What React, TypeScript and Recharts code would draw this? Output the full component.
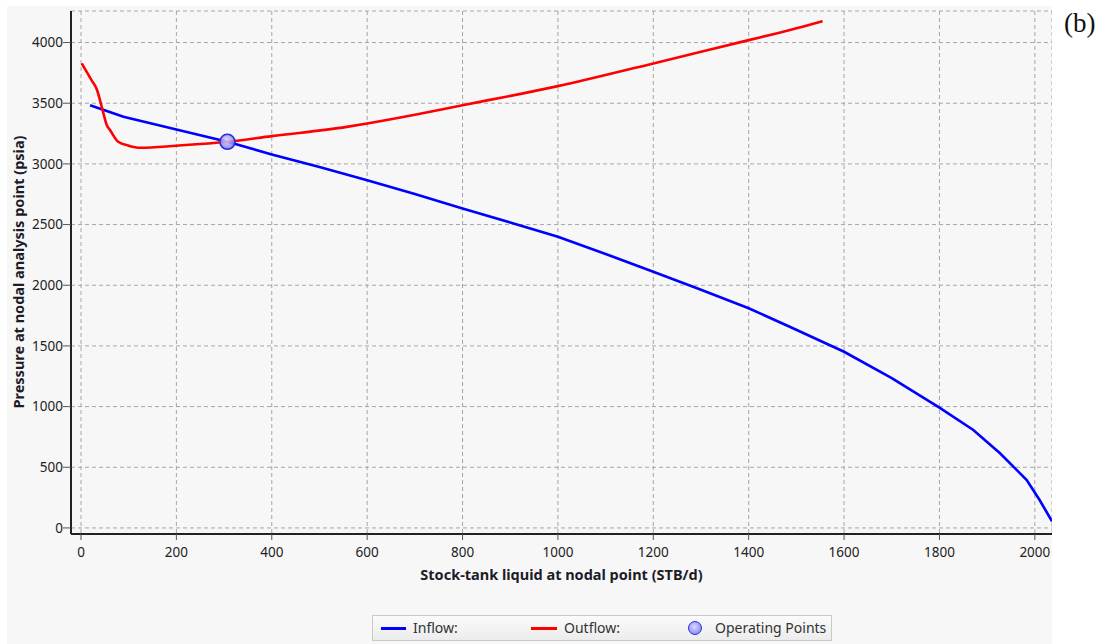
import React from 'react';
import {
  ComposedChart,
  Line,
  Scatter,
  XAxis,
  YAxis,
  CartesianGrid,
} from 'recharts';

// Inflow (IPR) curve: rate STB/d vs pressure psia
const inflowRate = [19, 89, 200, 307, 400, 500, 600, 700, 800, 900, 1000, 1100, 1200, 1300, 1400, 1486, 1600, 1700, 1800, 1871, 1927, 1983, 2010, 2036];
const inflowPressure = [3484, 3388, 3284, 3182, 3078, 2975, 2866, 2752, 2633, 2518, 2400, 2258, 2111, 1963, 1810, 1658, 1452, 1235, 991, 807, 615, 395, 230, 55];

// Outflow (VLP) curve
const outflowRate = [1.5, 22, 33, 47, 54, 61, 78, 100, 124, 200, 307, 400, 557, 600, 700, 800, 927, 1000, 1200, 1400, 1458, 1555];
const outflowPressure = [3828, 3690, 3615, 3416, 3320, 3278, 3182, 3150, 3133, 3150, 3182, 3229, 3305, 3333, 3405, 3484, 3581, 3641, 3828, 4020, 4075, 4176];

// Operating point
const opRate = [307];
const opPressure = [3182];

const xTicks = [0, 200, 400, 600, 800, 1000, 1200, 1400, 1600, 1800, 2000];
const yTicks = [0, 500, 1000, 1500, 2000, 2500, 3000, 3500, 4000];

const inflowData = inflowRate.map((x, i) => ({ x, y: inflowPressure[i] }));
const outflowData = outflowRate.map((x, i) => ({ x, y: outflowPressure[i] }));
const opData = opRate.map((x, i) => ({ x, y: opPressure[i] }));

const FONT = '"Noto Sans", "Open Sans", sans-serif';
const tickStyle = { fill: '#222', fontSize: 13.5, fontFamily: FONT };

const OpMarker = (props: any) => {
  const { cx, cy } = props;
  if (cx == null || cy == null) return null;
  return (
    <g>
      <defs>
        <radialGradient id="opGrad" cx="45%" cy="40%" r="60%">
          <stop offset="0%" stopColor="#d8d8ff" />
          <stop offset="100%" stopColor="#7676f0" />
        </radialGradient>
      </defs>
      <circle cx={cx} cy={cy} r={7.5} fill="url(#opGrad)" fillOpacity={0.85} stroke="#2b2bdc" strokeWidth={1.6} />
    </g>
  );
};

const YTitle = () => (
  <text
    x={11}
    y={266}
    transform="rotate(-90, 11, 266)"
    textAnchor="middle"
    dominantBaseline="central"
    fontFamily={FONT}
    fontSize={14.5}
    fontWeight="bold"
    fill="#1c1c28"
  >
    Pressure at nodal analysis point (psia)
  </text>
);

export default function App() {
  return (
    <div style={{ position: 'absolute', left: 0, top: 0, width: 1112, height: 644, background: '#fff', overflow: 'hidden' }}>
      <div style={{ position: 'absolute', left: 7, top: 6, width: 1045, height: 638, background: '#f7f7f7' }}>
        <ComposedChart width={1045} height={638} margin={{ top: 5, right: 0, bottom: 60, left: 0 }}>
          <CartesianGrid stroke="#a6a6a6" strokeDasharray="4 3" />
          <XAxis
            type="number"
            dataKey="x"
            domain={[-21, 2036]}
            ticks={xTicks}
            allowDataOverflow
            height={50}
            tickSize={6}
            tickMargin={7}
            tick={tickStyle}
            tickLine={{ stroke: '#555' }}
            axisLine={{ stroke: '#222', strokeWidth: 2.2 }}
            label={{
              value: 'Stock-tank liquid at nodal point (STB/d)',
              position: 'insideBottom',
              offset: 4,
              style: { fontFamily: FONT, fontSize: 14.5, fontWeight: 'bold', fill: '#1c1c28' },
            }}
          />
          <XAxis
            xAxisId="top"
            orientation="top"
            type="number"
            dataKey="x"
            domain={[-21, 2036]}
            height={0}
            tick={false}
            tickLine={false}
            axisLine={{ stroke: '#333', strokeWidth: 1.5 }}
          />
          <YAxis
            type="number"
            domain={[-50, 4260]}
            ticks={yTicks}
            allowDataOverflow
            width={64}
            tickSize={8}
            tickMargin={0}
            tick={tickStyle}
            tickLine={{ stroke: '#555' }}
            axisLine={{ stroke: '#222', strokeWidth: 2 }}
            label={<YTitle />}
          />
          <Line
            data={inflowData}
            dataKey="y"
            type="linear"
            stroke="#0000ff"
            strokeWidth={2.6}
            dot={false}
            activeDot={false}
            isAnimationActive={false}
          />
          <Line
            data={outflowData}
            dataKey="y"
            type="monotone"
            stroke="#ff0000"
            strokeWidth={2.6}
            dot={false}
            activeDot={false}
            isAnimationActive={false}
          />
          <Scatter data={opData} dataKey="y" shape={<OpMarker />} isAnimationActive={false} />
        </ComposedChart>
        <div
          style={{
            position: 'absolute',
            left: 365,
            top: 609,
            width: 458,
            height: 24,
            border: '1px solid #c9c9c9',
            background: 'linear-gradient(#fbfbfb, #ececec)',
            fontFamily: FONT,
            fontSize: 14,
            color: '#333',
          }}
        >
          <div style={{ position: 'absolute', left: 8, top: 11, width: 25, height: 3, background: '#0000ff' }} />
          <span style={{ position: 'absolute', left: 40, top: 2 }}>Inflow:</span>
          <div style={{ position: 'absolute', left: 158, top: 11, width: 26, height: 3, background: '#ff0000' }} />
          <span style={{ position: 'absolute', left: 191, top: 2 }}>Outflow:</span>
          <div
            style={{
              position: 'absolute',
              left: 315,
              top: 5,
              width: 12,
              height: 12,
              borderRadius: '50%',
              border: '1.6px solid #2b2bdc',
              background: 'radial-gradient(circle at 45% 40%, #d8d8ff, #7676f0)',
            }}
          />
          <span style={{ position: 'absolute', left: 342, top: 2 }}>Operating Points</span>
        </div>
      </div>
      <div
        style={{
          position: 'absolute',
          left: 1064,
          top: 8,
          fontFamily: '"Liberation Serif", "DejaVu Serif", serif',
          fontSize: 27,
          color: '#111',
        }}
      >
        (b)
      </div>
    </div>
  );
}
